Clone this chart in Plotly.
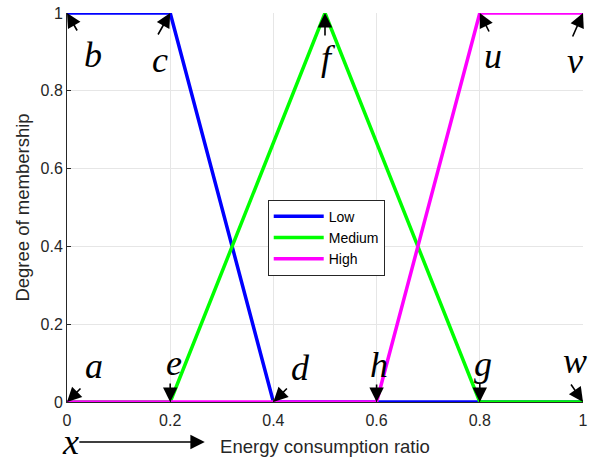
import plotly.graph_objects as go

# Data
low_x = [0, 0.2, 0.4, 1.0]
low_y = [1, 1, 0, 0]
med_x = [0, 0.2, 0.5, 0.8, 1.0]
med_y = [0, 0, 1, 0, 0]
high_x = [0, 0.6, 0.8, 1.0]
high_y = [0, 0, 1, 1]
series_names = ["Low", "Medium", "High"]
series_colors = ["#0000ff", "#00ff00", "#ff00ff"]
tick_vals = [0, 0.2, 0.4, 0.6, 0.8, 1]
tick_text = ["0", "0.2", "0.4", "0.6", "0.8", "1"]

# point labels
point_letters = ["a", "b", "c", "d", "e", "f", "g", "h", "u", "v", "w"]
point_x = [0, 0, 0.2, 0.4, 0.2, 0.5, 0.8, 0.6, 0.8, 1.0, 1.0]
point_y = [0, 1, 1, 0, 0, 1, 0, 0, 1, 1, 0]
# arrow tail offsets (px, y down positive)
arrow_dx = [15, 11, -13, 15, 0, 0, 0, 0, 10, -11, -13]
arrow_dy = [-15, 19, 23, -15, -20, 24, -20, -19, 20, 25, -19]
# letter box-centre offsets (px, y down positive)
text_dx = [27, 26, -10, 27, 4, 3, 3, 2, 13, -8, -8]
text_dy = [-36, 42, 47, -34, -39, 45, -38, -37, 43, 48, -41]

fig = go.Figure()
for xs, ys, nm, col in zip([low_x, med_x, high_x], [low_y, med_y, high_y], series_names, series_colors):
    fig.add_trace(go.Scatter(x=xs, y=ys, mode="lines", name=nm,
                             line=dict(color=col, width=3.5)))

letter_font = dict(family="Liberation Serif", size=36, color="black")
ann = []
for L, px, py, adx, ady, tdx, tdy in zip(point_letters, point_x, point_y, arrow_dx, arrow_dy, text_dx, text_dy):
    ann.append(dict(x=px, y=py, xref="x", yref="y", ax=adx, ay=ady, text="",
                    showarrow=True, arrowhead=2, arrowsize=1.8, arrowwidth=1.6,
                    arrowcolor="black"))
    ann.append(dict(x=px, y=py, xref="x", yref="y", text="<i>%s</i>" % L,
                    showarrow=False, xshift=tdx, yshift=-tdy, font=letter_font,
                    xanchor="center", yanchor="middle"))

# x axis arrow
ann.append(dict(x=0.267, y=-0.103, xref="x", yref="paper", axref="x", ayref="pixel",
                ax=0.021, ay=0, text="", showarrow=True, arrowhead=2,
                arrowsize=1.8, arrowwidth=1.6, arrowcolor="black"))
ann.append(dict(x=0.0, y=-0.103, xref="x", yref="paper", text="<i>x</i>",
                showarrow=False, xshift=3, yshift=0, font=letter_font,
                xanchor="center", yanchor="middle"))

axis_common = dict(range=[0, 1], tickvals=tick_vals, ticktext=tick_text,
                   showgrid=True, gridcolor="#e6e6e6", gridwidth=1,
                   showline=True, linecolor="#262626", linewidth=1,
                   ticks="inside", ticklen=4, tickcolor="#262626",
                   zeroline=False, automargin=False,
                   tickfont=dict(family="Liberation Sans", size=16, color="#262626"))

fig.update_layout(
    width=593, height=462,
    margin=dict(l=67, r=10, t=13, b=60),
    paper_bgcolor="white", plot_bgcolor="white",
    font=dict(family="Liberation Sans", size=16, color="#262626"),
    annotations=ann,
    legend=dict(x=0.389, y=0.52, xanchor="left", yanchor="top",
                bgcolor="white", bordercolor="#262626", borderwidth=1,
                font=dict(family="Liberation Sans", size=14, color="black"),
                itemwidth=50, tracegroupgap=0),
    xaxis=dict(**axis_common, ticklabelstandoff=4,
               title=dict(text="Energy consumption ratio", standoff=11,
                          font=dict(size=18.5))),
    yaxis=dict(**axis_common, ticklabelstandoff=0,
               title=dict(text="Degree of membership", standoff=6,
                          font=dict(size=18.5))),
)

fig.write_html("out.html", config={"displayModeBar": False},
               post_script="document.body.style.margin='0';document.body.style.overflow='hidden';")
